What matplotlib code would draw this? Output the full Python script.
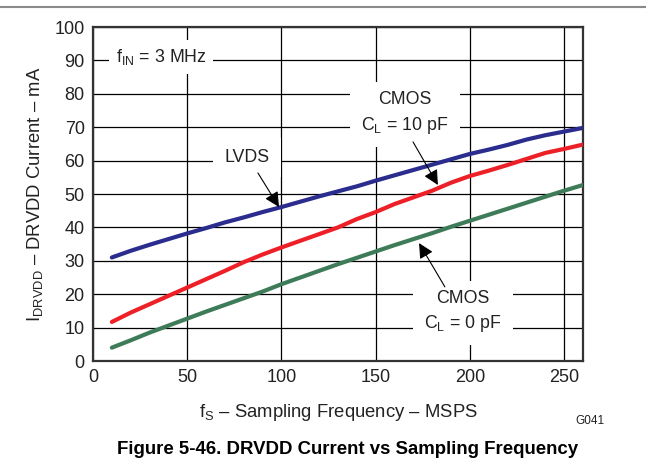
import numpy as np
import matplotlib.pyplot as plt
from matplotlib.lines import Line2D

plt.rcParams['font.family'] = ['Liberation Sans', 'DejaVu Sans']
plt.rcParams['mathtext.fontset'] = 'custom'
plt.rcParams['mathtext.rm'] = 'Liberation Sans'

# sampling frequency (MSPS)
fs = [10, 20, 30, 40, 50, 60, 70, 80, 90, 100, 110, 120, 130, 140, 150,
      160, 170, 180, 190, 200, 210, 220, 230, 240, 250, 260]

# DRVDD current (mA)
lvds = [31.0, 33.0, 34.8, 36.5, 38.2, 39.8, 41.5, 43.0, 44.6, 46.1, 47.7, 49.3, 50.8,
        52.3, 54.0, 55.6, 57.2, 58.8, 60.4, 62.0, 63.3, 64.7, 66.3, 67.6, 68.7, 69.8]
cmos_10pf = [11.7, 14.5, 17.0, 19.5, 22.0, 24.5, 27.0, 29.6, 31.9, 34.0, 36.0, 38.0, 40.0,
             42.5, 44.6, 47.0, 49.0, 51.0, 53.4, 55.4, 57.0, 58.7, 60.5, 62.3, 63.5, 64.8]
cmos_0pf = [4.0, 6.2, 8.5, 10.6, 12.7, 14.8, 16.8, 18.8, 20.8, 23.0, 25.0, 27.0, 29.0,
            30.9, 32.8, 34.7, 36.5, 38.3, 40.2, 42.0, 43.8, 45.6, 47.4, 49.2, 51.0, 52.7]

fig = plt.figure(figsize=(6.46, 4.68), dpi=100)
ax = fig.add_axes([0.144, 0.2286, 0.7585, 0.7137])

# gray rule at top of page
fig.add_artist(Line2D([0, 1], [1 - 7 / 468, 1 - 7 / 468], color='#8a8a8a', lw=1.5,
                      transform=fig.transFigure))

ax.plot(fs, lvds, color='#2b2d8e', lw=3, solid_capstyle='round', zorder=3)
ax.plot(fs, cmos_10pf, color='#ee2027', lw=3, solid_capstyle='round', zorder=3)
ax.plot(fs, cmos_0pf, color='#3e7b58', lw=3, solid_capstyle='round', zorder=3)

ax.set_xlim(0, 260)
ax.set_ylim(0, 100)
ax.set_xticks(np.arange(0, 251, 50))
ax.set_yticks(np.arange(0, 101, 10))
ax.tick_params(length=0, labelsize=13, colors='#222222', pad=6)
ax.grid(True, color='black', lw=0.9)
ax.set_axisbelow(True)
for s in ax.spines.values():
    s.set_linewidth(1.6)
    s.set_color('#333333')

ax.set_xlabel('f$_\\mathregular{S}$ – Sampling Frequency – MSPS', fontsize=13.3,
              color='#222222', labelpad=11)
ax.set_ylabel('I$_\\mathregular{DRVDD}$ – DRVDD Current – mA', fontsize=13.3,
              color='#222222', labelpad=7)

box = dict(facecolor='white', edgecolor='none', pad=5)
ax.text(12, 91, 'f$_\\mathregular{IN}$ = 3 MHz', fontsize=12.8, color='#222222',
        va='center', ha='left', bbox=box, zorder=4)

arrow = dict(arrowstyle='-|>,head_length=0.9,head_width=0.45', color='black',
             lw=0.8, shrinkA=0, shrinkB=0)
ax.annotate('', xy=(98.7, 46.1), xytext=(87.5, 56.3), arrowprops=arrow, zorder=5)
ax.text(81.7, 61, 'LVDS', fontsize=12.8, color='#222222', ha='center', va='center',
        bbox=dict(facecolor='white', edgecolor='none', pad=8), zorder=4)

ax.annotate('', xy=(183, 52.7), xytext=(169.8, 65.6), arrowprops=arrow, zorder=5)
ax.text(165.5, 74.2, 'CMOS\nC$_\\mathregular{L}$ = 10 pF', fontsize=12.8, color='#222222',
        ha='center', va='center', linespacing=1.45,
        bbox=dict(facecolor='white', edgecolor='none', pad=8), zorder=4)

ax.annotate('', xy=(173, 35.3), xytext=(186.7, 22.2), arrowprops=arrow, zorder=5)
ax.text(196.3, 14.7, 'CMOS\nC$_\\mathregular{L}$ = 0 pF', fontsize=12.8, color='#222222',
        ha='center', va='center', linespacing=1.45,
        bbox=dict(facecolor='white', edgecolor='none', pad=8), zorder=4)

fig.text(590 / 646, 1 - 421 / 468, 'G041', fontsize=8.5, color='#222222',
         ha='center', va='center')
fig.text(348 / 646, 1 - 450 / 468, 'Figure 5-46. DRVDD Current vs Sampling Frequency',
         fontsize=13.4, fontweight='bold', ha='center', va='center')

fig.savefig('out.png', dpi=100)
